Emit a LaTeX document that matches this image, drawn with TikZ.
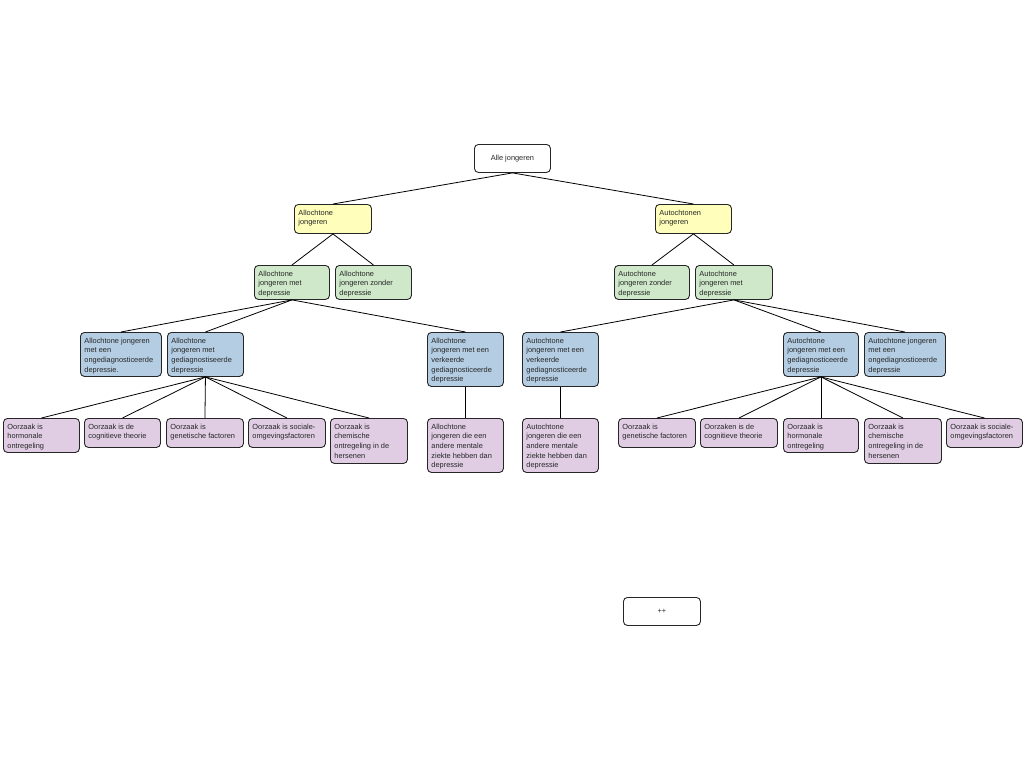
\documentclass[tikz,border=0pt]{standalone}
\usepackage{fontspec}
\setmainfont{Liberation Sans}
\definecolor{cyel}{RGB}{255,255,187}
\definecolor{cgrn}{RGB}{206,232,201}
\definecolor{cblu}{RGB}{180,205,227}
\definecolor{cpur}{RGB}{224,205,228}
\newcommand\tb[3]{\parbox[t][#2][t]{#1}{\vspace*{3pt}\raggedright #3\vss}}
\tikzset{
  bx/.style={draw=black!85, line width=0.9pt, rounded corners=4pt, anchor=north west,
    inner xsep=4pt, inner ysep=2.5pt, font=\fontsize{7.4}{9.6}\selectfont, text=black!85},
  cbx/.style={draw=black!85, line width=0.9pt, rounded corners=4pt, anchor=north west,
    inner sep=0pt, font=\fontsize{7.4}{9.6}\selectfont, text=black!85, align=center},
  ln/.style={draw=black, line width=0.8pt}
}
\begin{document}
\begin{tikzpicture}[x=1pt,y=-1pt]
\useasboundingbox (0,0) rectangle (1024,768);
% root
\node[cbx, fill=white, minimum width=76pt, minimum height=28pt] (root) at (474,144) {Alle jongeren};
% yellow
\node[bx, fill=cyel] (y1) at (294,204) {\tb{69pt}{24pt}{Allochtone\\jongeren}};
\node[bx, fill=cyel] (y2) at (655,204) {\tb{68pt}{24pt}{Autochtonen\\jongeren}};
% green
\node[bx, fill=cgrn] (g1) at (254,265) {\tb{67pt}{29pt}{Allochtone\\jongeren met\\depressie}};
\node[bx, fill=cgrn] (g2) at (335,265) {\tb{68pt}{29pt}{Allochtone\\jongeren zonder\\depressie}};
\node[bx, fill=cgrn] (g3) at (614,265) {\tb{67pt}{29pt}{Autochtone\\jongeren zonder\\depressie}};
\node[bx, fill=cgrn] (g4) at (695,265) {\tb{69pt}{29pt}{Autochtone\\jongeren met\\depressie}};
% blue
\node[bx, fill=cblu] (b1) at (80,332) {\tb{73pt}{39pt}{Allochtone jongeren\\met een\\ongediagnosticeerde\\depressie.}};
\node[bx, fill=cblu] (b2) at (167,332) {\tb{68pt}{39pt}{Allochtone\\jongeren met\\gediagnostiseerde\\depressie}};
\node[bx, fill=cblu] (b3) at (427,332) {\tb{68pt}{49pt}{Allochtone\\jongeren met een\\verkeerde\\gediagnosticeerde\\depressie}};
\node[bx, fill=cblu] (b4) at (522,332) {\tb{68pt}{49pt}{Autochtone\\jongeren met een\\verkeerde\\gediagnosticeerde\\depressie}};
\node[bx, fill=cblu] (b5) at (783,332) {\tb{67pt}{39pt}{Autochtone\\jongeren met een\\gediagnosticeerde\\depressie}};
\node[bx, fill=cblu] (b6) at (864,332) {\tb{73pt}{39pt}{Autochtone jongeren\\met een\\ongediagnosticeerde\\depressie}};
% purple
\node[bx, fill=cpur] (p1) at (3,418) {\tb{68pt}{29pt}{Oorzaak is\\hormonale\\ontregeling}};
\node[bx, fill=cpur] (p2) at (84,418) {\tb{68pt}{24pt}{Oorzaak is de\\cognitieve theorie}};
\node[bx, fill=cpur] (p3) at (166,418) {\tb{69pt}{24pt}{Oorzaak is\\genetische factoren}};
\node[bx, fill=cpur] (p4) at (248,418) {\tb{69pt}{24pt}{Oorzaak is sociale-\\omgevingsfactoren}};
\node[bx, fill=cpur] (p5) at (330,418) {\tb{69pt}{40pt}{Oorzaak is\\chemische\\ontregeling in de\\hersenen}};
\node[bx, fill=cpur] (p6) at (427,418) {\tb{68pt}{49pt}{Allochtone\\jongeren die een\\andere mentale\\ziekte hebben dan\\depressie}};
\node[bx, fill=cpur] (p7) at (522,418) {\tb{68pt}{49pt}{Autochtone\\jongeren die een\\andere mentale\\ziekte hebben dan\\depressie}};
\node[bx, fill=cpur] (p8) at (618,418) {\tb{69pt}{24pt}{Oorzaak is\\genetische factoren}};
\node[bx, fill=cpur] (p9) at (700,418) {\tb{69pt}{24pt}{Oorzaken is de\\cognitieve theorie}};
\node[bx, fill=cpur] (p10) at (783,418) {\tb{67pt}{29pt}{Oorzaak is\\hormonale\\ontregeling}};
\node[bx, fill=cpur] (p11) at (864,418) {\tb{69pt}{40pt}{Oorzaak is\\chemische\\ontregeling in de\\hersenen}};
\node[bx, fill=cpur] (p12) at (946,418) {\tb{68pt}{24pt}{Oorzaak is sociale-\\omgevingsfactoren}};
% extra box
\node[cbx, fill=white, minimum width=77pt, minimum height=28pt] (pp) at (623,597) {++};
% edges
\foreach \a/\b in {root/y1,root/y2,y1/g1,y1/g2,y2/g3,y2/g4,
  g1/b1,g1/b2,g1/b3,g4/b4,g4/b5,g4/b6,
  b2/p1,b2/p2,b2/p3,b2/p4,b2/p5,b3/p6,b4/p7,
  b5/p8,b5/p9,b5/p10,b5/p11,b5/p12}
  \draw[ln] (\a.south) -- (\b.north);
\end{tikzpicture}
\end{document}
